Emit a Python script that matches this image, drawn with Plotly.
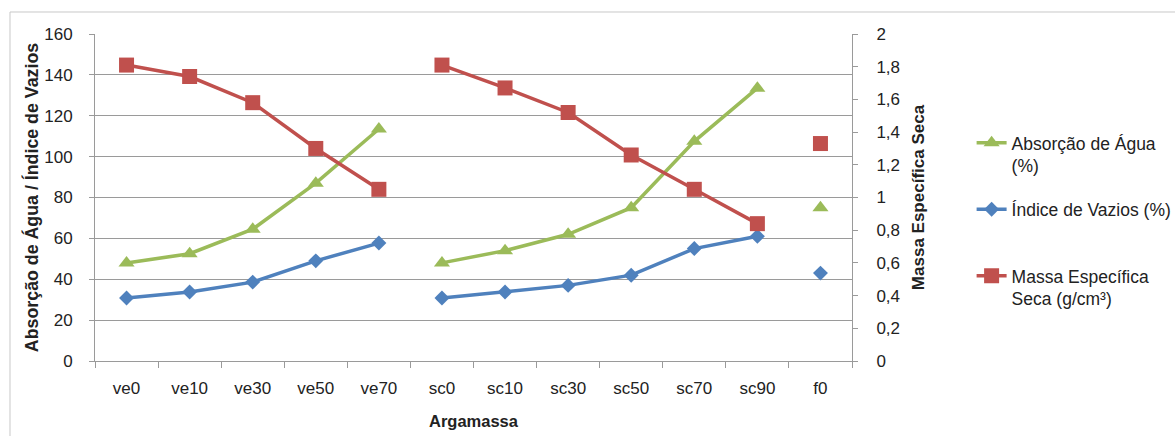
import plotly.graph_objects as go

categories = ["ve0", "ve10", "ve30", "ve50", "ve70", "sc0", "sc10", "sc30", "sc50", "sc70", "sc90", "f0"]
absorcao = [48, 52.5, 64.5, 87, 113.5, 48, 54, 62, 75, 107.5, 133.5, 75]
indice = [30.8, 33.8, 38.6, 49, 57.7, 30.8, 33.8, 37, 42, 55, 61, 43]
massa = [1.81, 1.74, 1.58, 1.30, 1.05, 1.81, 1.67, 1.52, 1.26, 1.05, 0.84, 1.33]

groups = [(0, 5), (5, 11), (11, 12)]

series = [
    ("Absorção de Água<br>(%)", absorcao, "#9BBB59", "triangle-up", 14, "y", "g1"),
    ("Índice de Vazios (%)<br> ", indice, "#4F81BD", "diamond", 11.5, "y", "g2"),
    ("Massa Específica<br>Seca (g/cm³)", massa, "#C0504D", "square", 15, "y2", "g3"),
]

FONT = "Liberation Sans, Arial, sans-serif"
TXT = "#222222"
AX = "#9a9a9a"
fig = go.Figure()
for name, vals, color, sym, msize, yax, grp in series:
    for k, (a, b) in enumerate(groups):
        fig.add_trace(go.Scatter(
            x=categories[a:b], y=vals[a:b], name=name, yaxis=yax,
            mode="lines+markers", legendgroup=grp, showlegend=(k == 0),
            line=dict(color=color, width=3.5),
            marker=dict(symbol=sym, size=msize, color=color),
        ))

fig.update_layout(
    width=1175, height=436,
    margin=dict(l=95, r=323, t=34, b=75, autoexpand=False),
    paper_bgcolor="white", plot_bgcolor="white",
    separators=",.",
    font=dict(family=FONT, size=17, color=TXT),
    xaxis=dict(
        type="category", categoryorder="array", categoryarray=categories,
        range=[-0.5, 11.5], tickson="boundaries", ticks="outside", ticklen=6,
        tickcolor=AX, showline=True, linecolor=AX, linewidth=1, automargin=False,
        showgrid=False, tickfont=dict(size=17, color=TXT), ticklabelstandoff=12,
        title=dict(text="<b>Argamassa</b>", font=dict(size=16.5, color=TXT), standoff=18),
    ),
    yaxis=dict(
        range=[0, 160], dtick=20, ticks="outside", ticklen=5, tickcolor=AX,
        showline=True, linecolor=AX, linewidth=1, automargin=False,
        showgrid=True, gridcolor=AX, gridwidth=1, zeroline=False,
        tickfont=dict(size=17, color=TXT), ticklabelstandoff=13,
        title=dict(text="<b>Absorção de Água / Índice de Vazios</b>", font=dict(size=17.8, color=TXT), standoff=0),
    ),
    yaxis2=dict(
        range=[0, 2], dtick=0.2, overlaying="y", side="right",
        ticks="outside", ticklen=5, tickcolor=AX, automargin=False,
        showline=True, linecolor=AX, linewidth=1, showgrid=False, zeroline=False,
        tickfont=dict(size=17, color=TXT), ticklabelstandoff=15,
        title=dict(text="<b>Massa Específica Seca</b>", font=dict(size=17, color=TXT), standoff=13),
    ),
    legend=dict(
        x=1.158, xanchor="left", y=0.722, yanchor="top",
        traceorder="grouped", tracegroupgap=18, valign="top",
        font=dict(size=17.5, color=TXT), bgcolor="rgba(0,0,0,0)",
    ),
    shapes=[dict(type="rect", xref="paper", yref="paper",
                 x0=-0.1123, x1=1.6, y0=-0.4, y1=1.0673,
                 line=dict(color="#c8c8c8", width=1), fillcolor="rgba(0,0,0,0)", layer="below")],
)

fig.write_html("out.html")
